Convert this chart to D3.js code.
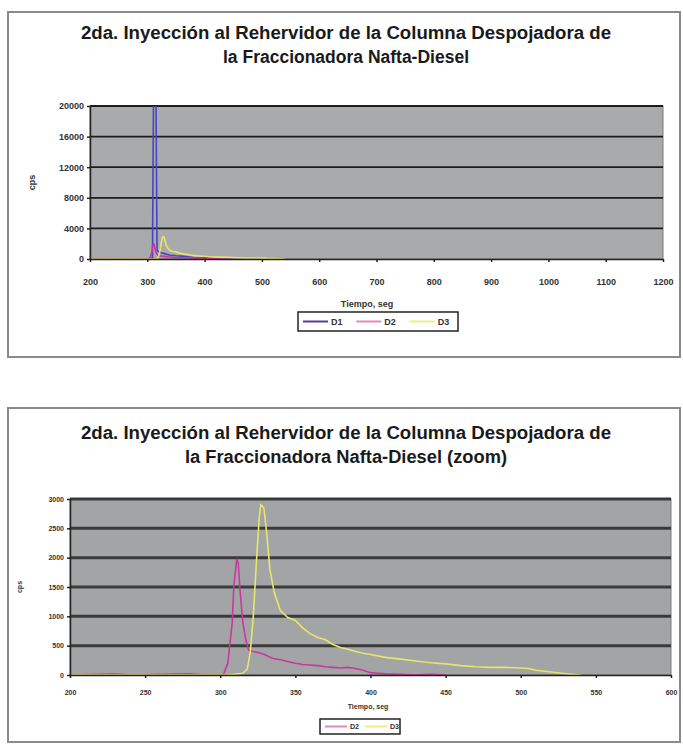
<!DOCTYPE html>
<html>
<head>
<meta charset="utf-8">
<script src="https://cdn.jsdelivr.net/npm/d3@7"></script>
<style>
  body { margin: 0; background: #fff; }
  svg { display: block; font-family: "Liberation Sans", Arial, sans-serif; }
</style>
</head>
<body>
<svg id="root" width="683" height="745"></svg>
<script>
// series D1 (only in the full chart): time [s], cps
const d1Time = [200, 305, 309, 311, 315, 317, 320, 330, 340, 350, 360, 370, 380, 400, 410, 420]
const d1Cps = [0, 0, 100, 23000, 23000, 1200, 900, 700, 500, 420, 380, 300, 200, 150, 100, 0]

// series D2
const d2Time = [200, 230, 240, 280, 290, 302, 305, 308, 309, 311, 312, 313, 315, 317, 319, 322, 326, 330, 335, 340, 345, 350, 355, 360, 365, 370, 375, 380, 385, 390, 395, 400, 405, 410, 420, 430, 440, 450]
const d2Cps = [0, 15, 0, 20, 0, 0, 200, 900, 1500, 1980, 1900, 1500, 900, 600, 420, 400, 380, 340, 280, 260, 230, 200, 180, 170, 160, 140, 130, 120, 130, 110, 80, 40, 30, 20, 10, 0, 10, 0]

// series D3
const d3Time = [200, 290, 305, 315, 318, 320, 322, 324, 326, 327, 329, 331, 333, 336, 340, 345, 350, 355, 360, 365, 370, 375, 380, 385, 390, 395, 400, 410, 420, 430, 440, 450, 460, 470, 480, 490, 500, 505, 510, 520, 530, 540]
const d3Cps = [0, 0, 0, 30, 100, 400, 1000, 1900, 2700, 2900, 2850, 2400, 1800, 1400, 1100, 980, 930, 800, 700, 640, 600, 520, 470, 440, 400, 370, 350, 300, 270, 240, 210, 190, 160, 140, 130, 130, 120, 110, 80, 50, 20, 0]

const titleLine1 = '2da. Inyección al Rehervidor de la Columna Despojadora de'
const titleLine2Full = 'la Fraccionadora Nafta-Diesel'
const titleLine2Zoom = 'la Fraccionadora Nafta-Diesel (zoom)'

const fullXTicks = [200, 300, 400, 500, 600, 700, 800, 900, 1000, 1100, 1200]
const fullYTicks = [0, 4000, 8000, 12000, 16000, 20000]
const zoomXTicks = [200, 250, 300, 350, 400, 450, 500, 550, 600]
const zoomYTicks = [0, 500, 1000, 1500, 2000, 2500, 3000]

const colors = { D1: '#4a44c4', D2: '#c8399e', D3: '#e6e66a' }
const legendColors = { D1: '#5a3f96', D2: '#e08ab8', D3: '#ecec8a' }

const toPoints = (t, v) => t.map((d, i) => ({ t: d, v: v[i] }))

function drawChart (svg, opt) {
  const g = svg.append('g')

  // outer frame
  g.append('rect')
    .attr('x', opt.box.x).attr('y', opt.box.y)
    .attr('width', opt.box.w).attr('height', opt.box.h)
    .attr('fill', '#fff')
    .attr('stroke', '#8a8a8a')
    .attr('stroke-width', 2)

  // title, slightly condensed like the original
  g.append('text')
    .attr('x', opt.titleX).attr('y', opt.titleY)
    .attr('text-anchor', 'middle')
    .attr('font-size', 18).attr('font-weight', 'bold')
    .attr('fill', '#1a1a1a')
    .attr('textLength', 530).attr('lengthAdjust', 'spacingAndGlyphs')
    .text(titleLine1)
  g.append('text')
    .attr('x', opt.titleX).attr('y', opt.titleY + 24)
    .attr('text-anchor', 'middle')
    .attr('font-size', 18).attr('font-weight', 'bold')
    .attr('fill', '#1a1a1a')
    .attr('textLength', opt.title2Len).attr('lengthAdjust', 'spacingAndGlyphs')
    .text(opt.title2)

  const p = opt.plot
  const x = d3.scaleLinear().domain(opt.xDomain).range([p.x0, p.x1])
  const y = d3.scaleLinear().domain(opt.yDomain).range([p.y1, p.y0])

  g.append('rect')
    .attr('x', p.x0).attr('y', p.y0)
    .attr('width', p.x1 - p.x0).attr('height', p.y1 - p.y0)
    .attr('fill', opt.plotFill)
    .attr('stroke', '#7a7a7a')

  // gridlines
  g.append('g')
    .selectAll('line')
    .data(opt.yTicks.filter(d => d > 0))
    .join('line')
      .attr('x1', p.x0).attr('x2', p.x1)
      .attr('y1', d => y(d)).attr('y2', d => y(d))
      .attr('stroke', opt.gridColor)
      .attr('stroke-width', opt.gridWidth)

  // series
  const clipId = 'clip' + opt.id
  svg.append('defs').append('clipPath').attr('id', clipId)
    .append('rect')
      .attr('x', p.x0).attr('y', p.y0)
      .attr('width', p.x1 - p.x0).attr('height', p.y1 - p.y0)

  const line = d3.line().x(d => x(d.t)).y(d => y(d.v))

  g.append('g')
    .attr('clip-path', `url(#${clipId})`)
    .selectAll('path')
    .data(opt.series)
    .join('path')
      .attr('d', d => line(d.points))
      .attr('fill', 'none')
      .attr('stroke', d => colors[d.name])
      .attr('stroke-width', 1.6)

  // axes
  const fmt = d3.format('d')
  const xAxis = d3.axisBottom(x).tickValues(opt.xTicks).tickFormat(fmt).tickSize(3).tickSizeOuter(0)
  const yAxis = d3.axisLeft(y).tickValues(opt.yTicks).tickFormat(fmt).tickSize(3).tickSizeOuter(0)

  const gx = g.append('g')
    .attr('transform', `translate(0,${p.y1})`)
    .call(xAxis)
  gx.select('.domain').attr('stroke', '#222').attr('stroke-width', 1.5)
  gx.selectAll('.tick line').attr('stroke', '#222').attr('stroke-width', 1.5)
  gx.selectAll('.tick text')
    .attr('y', opt.xLabelY)
    .attr('font-size', opt.tickFont).attr('font-weight', 'bold')
    .attr('fill', '#333').attr('font-family', 'Liberation Sans, Arial')

  const gy = g.append('g')
    .attr('transform', `translate(${p.x0},0)`)
    .call(yAxis)
  gy.select('.domain').attr('stroke', '#222').attr('stroke-width', 1.5)
  gy.selectAll('.tick line').attr('stroke', '#222').attr('stroke-width', 1.5)
  gy.selectAll('.tick text')
    .attr('x', -6)
    .attr('font-size', opt.tickFont).attr('font-weight', 'bold')
    .attr('fill', '#333').attr('font-family', 'Liberation Sans, Arial')

  // axis titles
  g.append('text')
    .attr('transform', `translate(${opt.yTitleX},${(p.y0 + p.y1) / 2}) rotate(-90)`)
    .attr('text-anchor', 'middle')
    .attr('font-size', opt.tickFont).attr('font-weight', 'bold')
    .attr('fill', '#333')
    .text('cps')
  g.append('text')
    .attr('x', opt.xTitleX).attr('y', opt.xTitleY)
    .attr('text-anchor', 'middle')
    .attr('font-size', opt.tickFont).attr('font-weight', 'bold')
    .attr('fill', '#333')
    .text('Tiempo, seg')

  // legend
  const lg = opt.legend
  g.append('rect')
    .attr('x', lg.x).attr('y', lg.y)
    .attr('width', lg.w).attr('height', lg.h)
    .attr('fill', '#fff')
    .attr('stroke', '#222').attr('stroke-width', 1.5)
  const step = lg.w / opt.series.length
  const items = g.append('g')
    .selectAll('g')
    .data(opt.series)
    .join('g')
      .attr('transform', (d, i) => `translate(${lg.x + 5 + i * step},${lg.y + lg.h / 2})`)
  items.append('line')
    .attr('x1', 0).attr('x2', lg.sw)
    .attr('stroke', d => legendColors[d.name])
    .attr('stroke-width', 2)
  items.append('text')
    .attr('x', lg.sw + 3).attr('dy', '0.35em')
    .attr('font-size', opt.tickFont).attr('font-weight', 'bold')
    .attr('fill', '#333')
    .text(d => d.name)
}

const svg = d3.select('#root')

drawChart(svg, {
  id: 'full',
  box: { x: 8, y: 12, w: 672, h: 345 },
  titleX: 346, titleY: 39,
  title2: titleLine2Full, title2Len: 246,
  plot: { x0: 90, x1: 663, y0: 106, y1: 259 },
  plotFill: '#a9aaab',
  gridColor: '#1c1c1c', gridWidth: 1.8,
  xDomain: [200, 1200], yDomain: [0, 20000],
  xTicks: fullXTicks, yTicks: fullYTicks,
  tickFont: 9, xLabelY: 20,
  yTitleX: 35, xTitleX: 367, xTitleY: 307,
  legend: { x: 298, y: 312, w: 160, h: 19, sw: 25 },
  series: [
    { name: 'D1', points: toPoints(d1Time, d1Cps) },
    { name: 'D2', points: toPoints(d2Time, d2Cps) },
    { name: 'D3', points: toPoints(d3Time, d3Cps) }
  ]
})

drawChart(svg, {
  id: 'zoom',
  box: { x: 8, y: 408, w: 672, h: 334 },
  titleX: 346, titleY: 439,
  title2: titleLine2Zoom, title2Len: 322,
  plot: { x0: 70, x1: 671, y0: 499, y1: 675 },
  plotFill: '#a3a4a5',
  gridColor: '#3a3a3a', gridWidth: 3,
  xDomain: [200, 600], yDomain: [0, 3000],
  xTicks: zoomXTicks, yTicks: zoomYTicks,
  tickFont: 7, xLabelY: 15,
  yTitleX: 22, xTitleX: 368, xTitleY: 709,
  legend: { x: 320, y: 719, w: 80, h: 15, sw: 22 },
  series: [
    { name: 'D2', points: toPoints(d2Time, d2Cps) },
    { name: 'D3', points: toPoints(d3Time, d3Cps) }
  ]
})
</script>
</body>
</html>
